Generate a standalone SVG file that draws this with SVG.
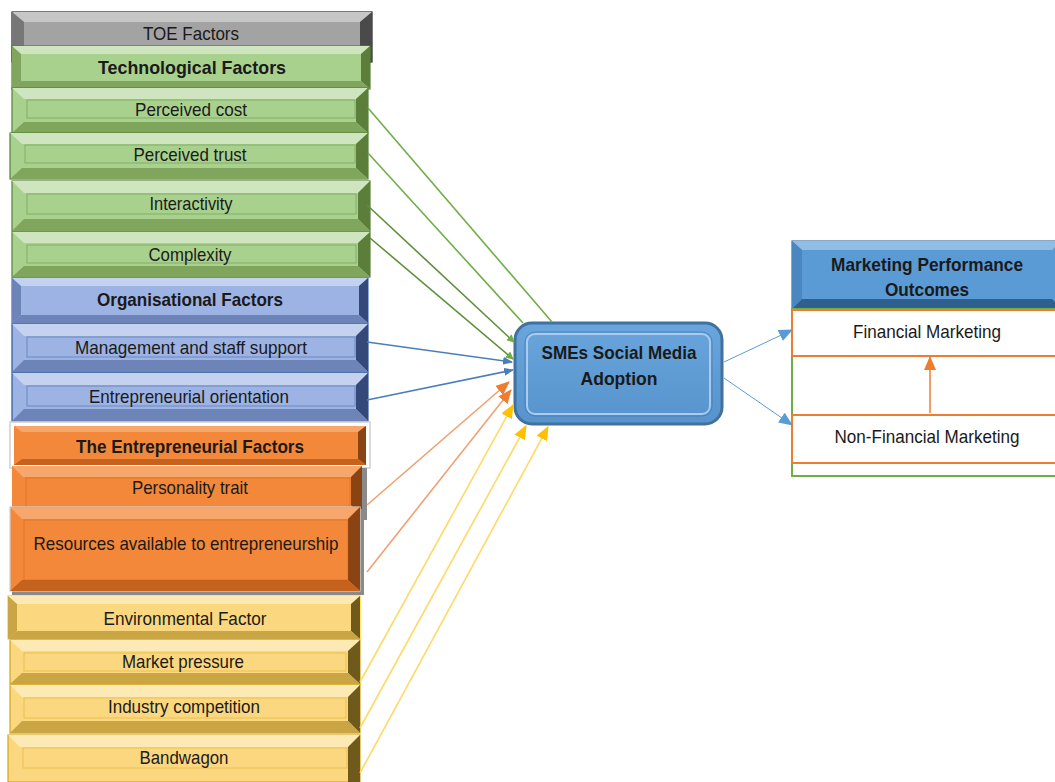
<svg xmlns="http://www.w3.org/2000/svg" width="1055" height="782" viewBox="0 0 1055 782">
<defs>
<style>
.t{font-family:"Liberation Sans",Arial,sans-serif;font-size:18.5px;fill:#1a1a1a;text-anchor:middle;dominant-baseline:central}
.b{font-weight:bold}
.g0{fill:#a9d18e}.g1{fill:#cfe5bf}.g2{fill:#5b7f3a}.g3{fill:#7fa65c}
.bl0{fill:#9db3e3}.bl1{fill:#c4d2f0}.bl2{fill:#34497a}.bl3{fill:#6d84b8}
.o0{fill:#f4883a}.o1{fill:#f7a66c}.o2{fill:#8a4414}.o3{fill:#c4621e}
.y0{fill:#fbd880}.y1{fill:#fde9b3}.y2{fill:#6f5a1c}.y3{fill:#c9a543}
.k0{fill:#a3a3a3}.k1{fill:#c6c6c6}.k2{fill:#4a4a4a}.k3{fill:#777}
.sg{stroke:#548235}.sb{stroke:#2f5597}.so{stroke:#c55a11}.sy{stroke:#d4a514}.sk{stroke:#222}
.box{stroke-width:1.2}
.in{fill:none;stroke-width:0.8;opacity:.55}
.c{fill:none;stroke-width:1.6}
</style>
<marker id="ag" markerWidth="8" markerHeight="8" refX="7" refY="4" orient="auto" markerUnits="userSpaceOnUse"><path d="M0,0 L8,4 L0,8 z" fill="#70ad47"/></marker>
<marker id="ab" markerWidth="10" markerHeight="8" refX="9" refY="4" orient="auto" markerUnits="userSpaceOnUse"><path d="M0,0 L10,4 L0,8 z" fill="#4a7ebb"/></marker>
<marker id="ao" markerWidth="14" markerHeight="12" refX="13" refY="6" orient="auto" markerUnits="userSpaceOnUse"><path d="M0,0 L14,6 L0,12 z" fill="#ed7d31"/></marker>
<marker id="ay" markerWidth="14" markerHeight="12" refX="13" refY="6" orient="auto" markerUnits="userSpaceOnUse"><path d="M0,0 L14,6 L0,12 z" fill="#ffc000"/></marker>
<marker id="abl" markerWidth="14" markerHeight="12" refX="13" refY="6" orient="auto" markerUnits="userSpaceOnUse"><path d="M0,0 L14,6 L0,12 z" fill="#5b9bd5"/></marker>
<linearGradient id="cg" x1="0" y1="0" x2="0" y2="1"><stop offset="0" stop-color="#6aa6dd"/><stop offset="1" stop-color="#5793cc"/></linearGradient>
</defs>

<g id="toe">
<rect x="12" y="12" width="360" height="50" class="k0 box sk"/>
<polygon points="12,12 372,12 360,22 24,22" class="k1"/>
<polygon points="12,12 24,22 24,52 12,62" class="k3"/>
<polygon points="372,12 360,22 360,52 372,62" class="k2"/>
<text x="191" y="33" class="t" textLength="96" lengthAdjust="spacingAndGlyphs">TOE Factors</text>
</g>

<g id="tech">
<rect x="12" y="46" width="358" height="43" class="g0 box sg"/>
<polygon points="12,46 370,46 361,54 21,54" class="g1"/>
<polygon points="12,46 21,54 21,81 12,89" class="g3"/>
<polygon points="370,46 361,54 361,81 370,89" class="g2"/>
<polygon points="12,89 370,89 361,81 21,81" class="g3"/>
<text x="192" y="67" class="t b" textLength="188" lengthAdjust="spacingAndGlyphs">Technological Factors</text>
</g>

<g id="cost">
<rect x="12" y="88" width="356" height="45" class="g0 box sg"/>
<polygon points="12,88 368,88 356,99 24,99" class="g1"/>
<polygon points="368,88 356,99 356,122 368,133" class="g2"/>
<polygon points="12,133 368,133 356,122 24,122" class="g3"/>
<rect x="27" y="100" width="328" height="18" class="in sg"/>
<text x="191" y="109" class="t" textLength="112" lengthAdjust="spacingAndGlyphs">Perceived cost</text>
</g>

<g id="trust">
<rect x="10" y="133" width="358" height="46" class="g0 box sg"/>
<polygon points="10,133 368,133 356,144 22,144" class="g1"/>
<polygon points="368,133 356,144 356,168 368,179" class="g2"/>
<polygon points="10,179 368,179 356,168 22,168" class="g3"/>
<rect x="25" y="145" width="330" height="18" class="in sg"/>
<text x="190" y="154" class="t" textLength="113" lengthAdjust="spacingAndGlyphs">Perceived trust</text>
</g>

<g id="interactivity">
<rect x="12" y="181" width="358" height="50" class="g0 box sg"/>
<polygon points="12,181 370,181 358,193 24,193" class="g1"/>
<polygon points="370,181 358,193 358,219 370,231" class="g2"/>
<polygon points="12,231 370,231 358,219 24,219" class="g3"/>
<rect x="27" y="194" width="329" height="20" class="in sg"/>
<text x="191" y="203" class="t" textLength="83" lengthAdjust="spacingAndGlyphs">Interactivity</text>
</g>

<g id="complexity">
<rect x="12" y="232" width="358" height="45" class="g0 box sg"/>
<polygon points="12,232 370,232 358,243 24,243" class="g1"/>
<polygon points="370,232 358,243 358,266 370,277" class="g2"/>
<polygon points="12,277 370,277 358,266 24,266" class="g3"/>
<rect x="27" y="245" width="329" height="18" class="in sg"/>
<text x="190" y="254" class="t" textLength="83" lengthAdjust="spacingAndGlyphs">Complexity</text>
</g>

<g id="org">
<rect x="12" y="278" width="356" height="45" class="bl0 box" stroke="#4472c4"/>
<polygon points="12,278 368,278 359,286 21,286" class="bl1"/>
<polygon points="12,278 21,286 21,315 12,323" class="bl3"/>
<polygon points="368,278 359,286 359,315 368,323" class="bl2"/>
<polygon points="12,323 368,323 359,315 21,315" class="bl3"/>
<text x="190" y="299" class="t b" textLength="186" lengthAdjust="spacingAndGlyphs">Organisational Factors</text>
</g>

<g id="mgmt">
<rect x="12" y="324" width="356" height="48" class="bl0 box sb"/>
<polygon points="12,324 368,324 356,336 24,336" class="bl1"/>
<polygon points="368,324 356,336 356,360 368,372" class="bl2"/>
<polygon points="12,372 368,372 356,360 24,360" class="bl3"/>
<rect x="27" y="337" width="328" height="20" class="in sb"/>
<text x="191" y="347" class="t" textLength="232" lengthAdjust="spacingAndGlyphs">Management and staff support</text>
</g>

<g id="eo">
<rect x="12" y="373" width="356" height="48" class="bl0 box sb"/>
<polygon points="12,373 368,373 356,385 24,385" class="bl1"/>
<polygon points="368,373 356,385 356,409 368,421" class="bl2"/>
<polygon points="12,421 368,421 356,409 24,409" class="bl3"/>
<rect x="27" y="386" width="328" height="20" class="in sb"/>
<text x="189" y="396" class="t" textLength="200" lengthAdjust="spacingAndGlyphs">Entrepreneurial orientation</text>
</g>

<g id="ent">
<rect x="10" y="422" width="360" height="46" fill="#fff" stroke="#cfcfcf" stroke-width="1.5"/>
<rect x="14" y="426" width="352" height="39" class="o0"/>
<polygon points="14,426 366,426 358,432 22,432" class="o1"/>
<polygon points="366,426 358,432 358,459 366,465" class="o2"/>
<polygon points="14,465 366,465 358,459 22,459" class="o3"/>
<text x="190" y="446" class="t b" textLength="228" lengthAdjust="spacingAndGlyphs">The Entrepreneurial Factors</text>
</g>

<g id="personality">
<rect x="14" y="468" width="353" height="52" fill="#8a8a8a"/>
<rect x="12" y="466" width="350" height="50" class="o0"/>
<polygon points="12,466 362,466 351,477 23,477" class="o1"/>
<polygon points="362,466 351,477 351,505 362,516" class="o2"/>
<rect x="26" y="478" width="324" height="30" fill="none" stroke="#c55a11" stroke-width="0.8" opacity="0.5"/>
<text x="190" y="487" class="t" textLength="116" lengthAdjust="spacingAndGlyphs">Personality trait</text>
</g>

<g id="resources">
<rect x="12" y="509" width="352" height="86" fill="#8a8a8a"/>
<rect x="10" y="507" width="350" height="84" class="o0" stroke="#d0d0d0" stroke-width="1.2"/>
<polygon points="10,507 360,507 348,519 22,519" class="o1"/>
<polygon points="360,507 348,519 348,580 360,591" class="o2"/>
<polygon points="10,591 360,591 348,580 22,580" class="o3"/>
<rect x="24" y="520" width="324" height="60" fill="none" stroke="#c55a11" stroke-width="0.8" opacity="0.5"/>
<text x="186" y="543" class="t" textLength="305" lengthAdjust="spacingAndGlyphs">Resources available to entrepreneurship</text>
</g>

<g id="env">
<rect x="8" y="596" width="352" height="43" class="y0 box" stroke="#ffd200"/>
<polygon points="8,596 360,596 351,604 17,604" class="y1"/>
<polygon points="8,596 17,604 17,631 8,639" class="y3"/>
<polygon points="360,596 351,604 351,631 360,639" class="y2"/>
<polygon points="8,639 360,639 351,631 17,631" class="y3"/>
<text x="185" y="618" class="t" textLength="163" lengthAdjust="spacingAndGlyphs">Environmental Factor</text>
</g>

<g id="market">
<rect x="10" y="640" width="350" height="44" class="y0 box sy"/>
<polygon points="10,640 360,640 348,651 22,651" class="y1"/>
<polygon points="360,640 348,651 348,673 360,684" class="y2"/>
<polygon points="10,684 360,684 348,673 22,673" class="y3"/>
<rect x="24" y="653" width="322" height="18" class="in sy"/>
<text x="183" y="661" class="t" textLength="122" lengthAdjust="spacingAndGlyphs">Market pressure</text>
</g>

<g id="industry">
<rect x="10" y="685" width="350" height="48" class="y0 box sy"/>
<polygon points="10,685 360,685 348,697 22,697" class="y1"/>
<polygon points="360,685 348,697 348,721 360,733" class="y2"/>
<polygon points="10,733 360,733 348,721 22,721" class="y3"/>
<rect x="24" y="698" width="322" height="20" class="in sy"/>
<text x="184" y="706" class="t" textLength="152" lengthAdjust="spacingAndGlyphs">Industry competition</text>
</g>

<g id="bandwagon">
<rect x="8" y="735" width="352" height="47" class="y0 box sy"/>
<polygon points="8,735 360,735 348,747 20,747" class="y1"/>
<polygon points="360,735 348,747 348,782 360,782" class="y2"/>
<rect x="23" y="748" width="324" height="20" class="in sy"/>
<text x="184" y="757" class="t" textLength="89" lengthAdjust="spacingAndGlyphs">Bandwagon</text>
</g>

<g id="sma">
<rect x="515" y="323" width="207" height="101" rx="17" fill="url(#cg)" stroke="#41719c" stroke-width="3"/>
<rect x="527" y="334" width="183" height="80" rx="8" fill="none" stroke="#a9cbed" stroke-width="2"/>
<rect x="525" y="332" width="187" height="84" rx="10" fill="none" stroke="#3f73a6" stroke-width="1" opacity="0.6"/>
<text x="619" y="352" class="t b" textLength="155" lengthAdjust="spacingAndGlyphs">SMEs Social Media</text>
<text x="619" y="378" class="t b" textLength="77" lengthAdjust="spacingAndGlyphs">Adoption</text>
</g>

<g id="mpo">
<rect x="792" y="241" width="270" height="68" fill="#5b9bd5" stroke="#41719c" stroke-width="1.2"/>
<polygon points="792,241 1062,241 1052,250 802,250" fill="#8fbde6"/>
<polygon points="792,241 802,250 802,299 792,309" fill="#4a86c0"/>
<polygon points="792,309 1062,309 1052,299 802,299" fill="#2e5f8f"/>
<text x="927" y="264" class="t b" textLength="192" lengthAdjust="spacingAndGlyphs">Marketing Performance</text>
<text x="927" y="289" class="t b" textLength="84" lengthAdjust="spacingAndGlyphs">Outcomes</text>
</g>

<g id="outline">
<rect x="792" y="309" width="270" height="167" fill="none" stroke="#70ad47" stroke-width="2"/>
</g>

<g id="fin">
<rect x="792" y="310" width="270" height="46" fill="#fff" stroke="#ed7d31" stroke-width="2"/>
<text x="927" y="331" class="t" textLength="148" lengthAdjust="spacingAndGlyphs">Financial Marketing</text>
</g>

<g id="nonfin">
<rect x="792" y="415" width="270" height="48" fill="#fff" stroke="#ed7d31" stroke-width="2"/>
<text x="927" y="436" class="t" textLength="185" lengthAdjust="spacingAndGlyphs">Non-Financial Marketing</text>
</g>

<g id="connectors">
<line x1="368" y1="108" x2="552" y2="322" class="c" stroke="#70ad47"/>
<line x1="368" y1="153" x2="523" y2="323" class="c" stroke="#70ad47"/>
<line x1="367" y1="205" x2="514" y2="342" class="c" stroke="#5e8f3a" marker-end="url(#ag)"/>
<line x1="370" y1="238" x2="513" y2="359" class="c" stroke="#5e8f3a" marker-end="url(#ag)"/>
<line x1="367" y1="342" x2="512" y2="362" class="c" stroke="#4a7ebb" marker-end="url(#ab)"/>
<line x1="367" y1="400" x2="513" y2="370" class="c" stroke="#4a7ebb" marker-end="url(#ab)"/>
<line x1="367" y1="505" x2="509" y2="382" class="c" stroke="#f0a070" stroke-width="1.2" marker-end="url(#ao)"/>
<line x1="367" y1="572" x2="511" y2="390" class="c" stroke="#f0a070" stroke-width="1.2" marker-end="url(#ao)"/>
<line x1="360" y1="682" x2="513" y2="405" class="c" stroke="#ffd966" stroke-width="1.2" marker-end="url(#ay)"/>
<line x1="360" y1="728" x2="526" y2="426" class="c" stroke="#ffd966" stroke-width="1.2" marker-end="url(#ay)"/>
<line x1="360" y1="773" x2="548" y2="427" class="c" stroke="#ffd966" stroke-width="1.2" marker-end="url(#ay)"/>
<line x1="724" y1="362" x2="792" y2="330" stroke="#5b9bd5" stroke-width="1" marker-end="url(#abl)"/>
<line x1="724" y1="378" x2="792" y2="425" stroke="#5b9bd5" stroke-width="1" marker-end="url(#abl)"/>
<line x1="930" y1="413" x2="930" y2="357" stroke="#ed7d31" stroke-width="1.5" marker-end="url(#ao)"/>
</g>
</svg>
